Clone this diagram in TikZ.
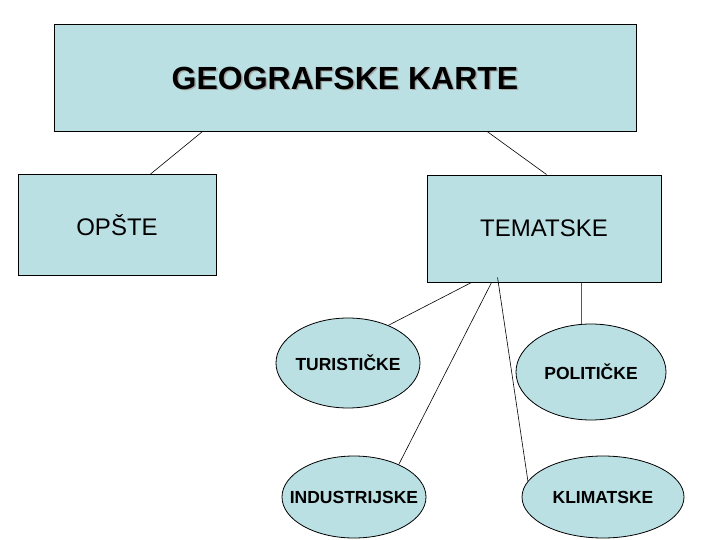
\documentclass[tikz,border=0pt]{standalone}
\usepackage{fontspec}
\setmainfont{Liberation Sans}
\usetikzlibrary{shapes.geometric,calc}
\definecolor{boxfill}{RGB}{187,224,228}
\begin{document}
\begin{tikzpicture}[x=1pt,y=-1pt,
  boxnode/.style={draw=black,line width=0.9pt,fill=boxfill,rectangle,inner sep=0pt},
  oval/.style={draw=black,line width=0.8pt,fill=boxfill,ellipse,inner sep=0pt},
  ovaltext/.style={font=\fontsize{17.5}{20}\selectfont\bfseries,inner sep=0pt},
  link/.style={draw=black,line width=0.6pt}]
\useasboundingbox (0,0) rectangle (720,540);
\fill[white] (0,0) rectangle (720,540);
% boxes
\node[boxnode,minimum width=582pt,minimum height=107pt] (top) at (345,77.5) {};
\node[text=gray!70,font=\fontsize{32}{36}\selectfont\bfseries,inner sep=0pt] (topshadow) at (346.5,79.5) {GEOGRAFSKE KARTE};
\node[font=\fontsize{32}{36}\selectfont\bfseries,inner sep=0pt] (toptext) at (345,78) {GEOGRAFSKE KARTE};
\node[boxnode,minimum width=198pt,minimum height=101pt,font=\fontsize{24}{28}\selectfont] (opste) at (117,225) {OPŠTE};
\node[boxnode,minimum width=234pt,minimum height=107pt,font=\fontsize{24}{28}\selectfont] (tem) at (544,228.5) {TEMATSKE};
% ellipses
\node[oval,minimum width=144pt,minimum height=90pt] (tur) at (348,363) {};
\node[ovaltext] (turt) at (tur.center) {TURISTIČKE};
\node[oval,minimum width=150pt,minimum height=96pt] (pol) at (591,372) {};
\node[ovaltext] (polt) at (pol.center) {POLITIČKE};
\node[oval,minimum width=144pt,minimum height=82pt] (ind) at (354,497) {};
\node[ovaltext] (indt) at (ind.center) {INDUSTRIJSKE};
\node[oval,minimum width=162pt,minimum height=82pt] (kli) at (603,497) {};
\node[ovaltext] (klit) at (kli.center) {KLIMATSKE};
% connectors
\draw[link] ($(top.south west)+(149,0)$) -- ($(opste.north west)+(133,0)$);
\draw[link] ($(top.south west)+(433.5,0)$) -- ($(tem.north west)+(120,0)$);
\draw[link] ($(tem.south west)+(45,0)$) -- (tur.43);
\draw[link] ($(tem.south west)+(65,0)$) -- (ind.36);
\draw[link] ($(tem.south west)+(71,-5)$) -- (kli.168);
\draw[link] ($(tem.south west)+(155,0)$) -- (pol.101);
\end{tikzpicture}
\end{document}
